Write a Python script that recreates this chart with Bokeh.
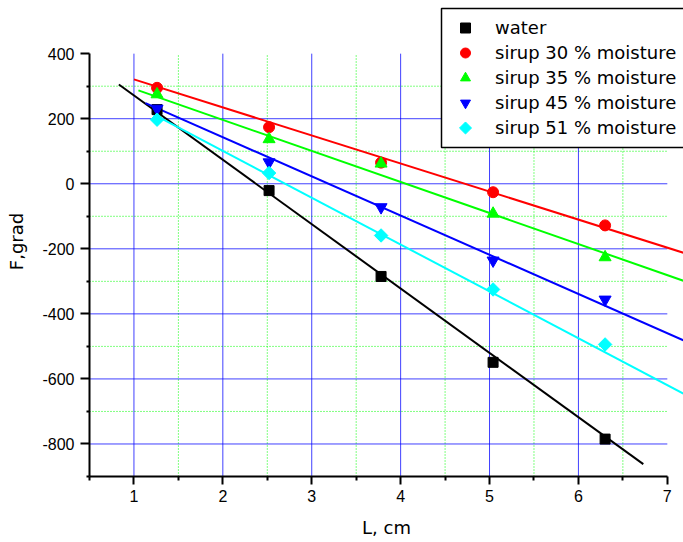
import math

from bokeh.plotting import figure
from bokeh.models import FixedTicker, Legend, LegendItem, Range1d
from bokeh.embed import file_html
from bokeh.resources import INLINE

# Measurement positions (cm) and deflection values (grad)
L_cm = [1.26, 2.52, 3.78, 5.04, 6.30]
water = [228, -21, -285, -549, -785]
sirup_30 = [295, 174, 65, -26, -128]
sirup_35 = [275, 137, 62, -92, -226]
sirup_45 = [231, 66, -72, -236, -356]
sirup_51 = [197, 33, -159, -325, -494]

series_names = ["water", "sirup 30 % moisture", "sirup 35 % moisture",
                "sirup 45 % moisture", "sirup 51 % moisture"]

# Linear fit lines, given by their end points
fit_x_start = [0.83, 1.00, 1.05, 1.13, 1.21]
fit_x_end = [6.73, 7.18, 7.18, 7.18, 7.18]
fit_y_start = [305, 321, 287, 248, 215]
fit_y_end = [-862, -212, -298, -481, -645]

# Axis ticks
x_major = [1, 2, 3, 4, 5, 6, 7]
x_minor = [0.5, 1.5, 2.5, 3.5, 4.5, 5.5, 6.5]
y_major = [-800, -600, -400, -200, 0, 200, 400]
y_minor = [-900, -700, -500, -300, -100, 100, 300]

TICK_FONT = "Liberation Sans"
TEXT_FONT = "DejaVu Sans"

colors = ["black", "#ff0000", "#00ff00", "#0000ff", "#00ffff"]
markers = ["square", "circle", "triangle", "inverted_triangle", "square"]
sizes = [10, 11, 12, 12, 9.5]
angles = [0, 0, 0, 0, math.pi / 4]
values = [water, sirup_30, sirup_35, sirup_45, sirup_51]

X0, X1 = 0.5, 7.0
Y0, Y1 = -900, 400

# plot frame geometry (pixels)
W, H = 683, 542
B_LEFT, B_RIGHT, B_TOP, B_BOTTOM = 89, 0, 6, 66
XR = (0.5, 7.182)
YR = (-900, 545)
frame_w = W - B_LEFT - B_RIGHT
frame_h = H - B_TOP - B_BOTTOM


def to_data(sx, sy):
    """Screen pixel position -> data coordinates of this frame."""
    dx = XR[0] + (sx - B_LEFT) * (XR[1] - XR[0]) / frame_w
    dy = YR[1] - (sy - B_TOP) * (YR[1] - YR[0]) / frame_h
    return dx, dy


p = figure(width=W, height=H, output_backend="svg", toolbar_location=None,
           x_range=Range1d(*XR), y_range=Range1d(*YR),
           min_border_left=B_LEFT, min_border_right=B_RIGHT, min_border_top=B_TOP,
           min_border_bottom=B_BOTTOM)
p.outline_line_color = None
p.background_fill_color = "white"
p.border_fill_color = "white"
p.xgrid.visible = False
p.ygrid.visible = False

# grid lines, limited to the axis extents
gx_major = [v for v in x_major if v < X1]
gx_minor = [v for v in x_minor if v > X0]
gy_major = [v for v in y_major if v < Y1]
gy_minor = [v for v in y_minor if v > Y0]

p.segment(x0=gx_minor, x1=gx_minor, y0=[Y0] * len(gx_minor), y1=[Y1] * len(gx_minor),
          line_color="#00ff00", line_width=1, line_dash="1 2")
p.segment(x0=[X0] * len(gy_minor), x1=[X1] * len(gy_minor), y0=gy_minor, y1=gy_minor,
          line_color="#00ff00", line_width=1, line_dash="1 2")
p.segment(x0=gx_major, x1=gx_major, y0=[Y0] * len(gx_major), y1=[Y1] * len(gx_major),
          line_color="#0000ff", line_width=1, line_alpha=0.75)
p.segment(x0=[X0] * len(gy_major), x1=[X1] * len(gy_major), y0=gy_major, y1=gy_major,
          line_color="#0000ff", line_width=1, line_alpha=0.75)

# fit lines
for i in range(5):
    p.line([fit_x_start[i], fit_x_end[i]], [fit_y_start[i], fit_y_end[i]],
           line_color=colors[i], line_width=2)

# data points
scatter_renderers = []
for i in range(5):
    r = p.scatter(L_cm, values[i], marker=markers[i], size=sizes[i], angle=angles[i],
                  fill_color=colors[i], line_color=colors[i])
    scatter_renderers.append(r)

# legend box (drawn as a glyph so the rotated key can sit on top of it);
# its right side runs past the edge of the page
LEG_LEFT, LEG_TOP = 441, 8
LEG_PAD, GLYPH_W, ROW_H = 7, 34, 25
leg_height = 2 * LEG_PAD + 5 * ROW_H
bx0, by0 = to_data(LEG_LEFT, LEG_TOP)
bx1, by1 = to_data(W + 60, LEG_TOP + leg_height)
p.quad(left=[bx0], right=[bx1], top=[by0], bottom=[by1],
       fill_color="white", line_color="black", line_width=1.5)

# legend keys are always drawn unrotated, so the diamond key is its own glyph
blank = p.scatter([XR[0]], [YR[0]], marker="square", size=1,
                  fill_alpha=0, line_alpha=0)
items = []
for i in range(5):
    key = scatter_renderers[i] if angles[i] == 0 else blank
    items.append(LegendItem(label=series_names[i], renderers=[key]))
    if angles[i] != 0:
        kx, ky = to_data(LEG_LEFT + LEG_PAD + GLYPH_W / 2,
                         LEG_TOP + LEG_PAD + (i + 0.5) * ROW_H)
        p.scatter([kx], [ky], marker=markers[i], size=sizes[i] - 1, angle=angles[i],
                  fill_color=colors[i], line_color=colors[i])

# without a border the legend drops its padding, so the box is shifted inward
legend = Legend(items=items,
                location=(LEG_LEFT - B_LEFT + LEG_PAD,
                          H - B_BOTTOM - LEG_TOP - leg_height + LEG_PAD),
                padding=LEG_PAD, margin=0,
                spacing=0, glyph_width=GLYPH_W, glyph_height=ROW_H, label_height=ROW_H,
                label_standoff=13, label_text_font=TEXT_FONT,
                label_text_font_size="18px", label_text_color="black",
                border_line_color=None, background_fill_color=None)
p.add_layout(legend, "center")

# axes
xa = p.xaxis[0]
xa.ticker = FixedTicker(ticks=x_major, minor_ticks=x_minor)
xa.bounds = (X0, X1)
xa.axis_label = "L, cm"
xa.major_label_overrides = {v: str(v) for v in x_major}
ya = p.yaxis[0]
ya.ticker = FixedTicker(ticks=y_major, minor_ticks=y_minor)
ya.bounds = (Y0, Y1)
ya.axis_label = "F,grad"
ya.major_label_overrides = {v: str(v) for v in y_major}

for ax in (xa, ya):
    ax.axis_line_color = "black"
    ax.axis_line_width = 2
    ax.major_tick_line_color = "black"
    ax.major_tick_line_width = 2
    ax.minor_tick_line_color = "black"
    ax.minor_tick_line_width = 2
    ax.major_tick_in = 0
    ax.minor_tick_in = 0
    ax.major_tick_out = 8
    ax.minor_tick_out = 4
    ax.major_label_text_font = TICK_FONT
    ax.major_label_text_font_size = "16px"
    ax.major_label_text_color = "black"
    ax.axis_label_text_font = TEXT_FONT
    ax.axis_label_text_font_size = "18px"
    ax.axis_label_text_font_style = "normal"
    ax.axis_label_text_color = "black"

xa.major_label_standoff = 5
xa.axis_label_standoff = 12
ya.major_tick_out = 9
ya.minor_tick_out = 3
ya.major_label_standoff = 6
ya.axis_label_standoff = 12

open("out.html", "w").write(file_html(p, INLINE))
